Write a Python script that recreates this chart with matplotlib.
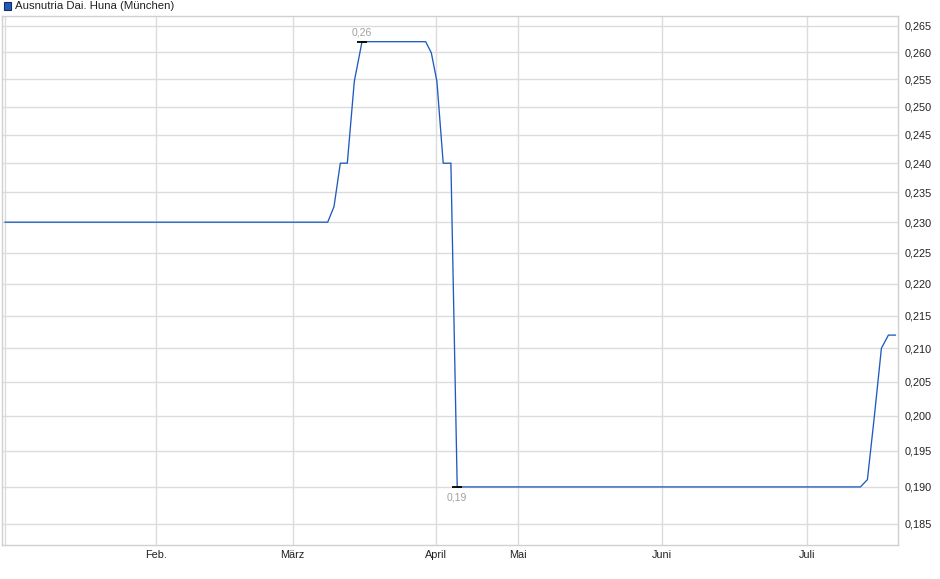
import matplotlib
matplotlib.use("Agg")
import matplotlib.pyplot as plt
from matplotlib.patches import Rectangle
from matplotlib.ticker import FixedLocator, NullLocator

plt.rcParams['font.family'] = ['Liberation Sans', 'DejaVu Sans']

# trading-day index (x) and price in EUR (y)
days = [0, 46.1, 47.0, 47.9, 48.9, 49.9, 51.0, 60.1, 60.9, 61.7, 62.6, 63.7, 64.6,
        122.2, 123.2, 124.2, 125.2, 126.2, 127.2]
prices = [0.230, 0.230, 0.2326, 0.240, 0.240, 0.2546, 0.262, 0.262, 0.2599, 0.2546,
          0.240, 0.240, 0.190, 0.190, 0.191, 0.200, 0.210, 0.212, 0.212]

month_pos = [21.6, 41.1, 61.6, 73.3, 93.9, 114.6]
month_labels = ['Feb.', 'März', 'April', 'Mai', 'Juni', 'Juli']

y_ticks = [0.185, 0.190, 0.195, 0.200, 0.205, 0.210, 0.215, 0.220, 0.225,
           0.230, 0.235, 0.240, 0.245, 0.250, 0.255, 0.260, 0.265]

hi_idx, hi_label = 6, '0,26'
lo_idx, lo_label = 12, '0,19'

W, H = 940, 579
fig = plt.figure(figsize=(W / 100, H / 100), dpi=100)
ax = fig.add_axes([2 / W, (H - 545) / H, 896 / W, 529 / H])

ax.set_yscale('log')
ax.set_ylim(0.1822, 0.2669)
ax.set_xlim(-0.43, 127.57)

ax.plot(days, prices, color='#1f5bbf', lw=0.95, zorder=3)

# high / low markers
for i, lab, off in [(hi_idx, hi_label, 6.5), (lo_idx, lo_label, -7.5)]:
    ax.plot(days[i], prices[i], marker='_', ms=7, mew=1.3, color='black', zorder=4)
    ax.annotate(lab, (days[i], prices[i]), xytext=(0, off), textcoords='offset points',
                ha='center', va='center', fontsize=7.5, color='#a0a0a0')

ax.yaxis.set_major_locator(FixedLocator(y_ticks))
ax.yaxis.set_minor_locator(NullLocator())
ax.set_yticklabels([f'{v:.3f}'.replace('.', ',') for v in y_ticks])
ax.yaxis.tick_right()
ax.tick_params(axis='y', length=0, pad=5, labelsize=7.8, labelcolor='#222222')

ax.set_xticks(month_pos)
ax.set_xticklabels(month_labels)
ax.tick_params(axis='x', length=0, pad=3.5, labelsize=7.8, labelcolor='#222222')

ax.grid(True, color='#dcdcdc', lw=1)
ax.axvline(0, color='#dcdcdc', lw=1)
ax.set_axisbelow(True)
for s in ax.spines.values():
    s.set_color('#d0d0d0')
    s.set_linewidth(1)

# legend box in the top-left corner
fig.patches.append(Rectangle((3.5 / W, (H - 9.5) / H), 7 / W, 7 / H,
                             transform=fig.transFigure, facecolor='#1f5bbf',
                             edgecolor='#1a2a5a', lw=0.8))
fig.text(15 / W, (H - 6) / H, 'Ausnutria Dai. Huna (München)', fontsize=8.2,
         va='center', ha='left', color='#222222')

fig.savefig('out.png', dpi=100)
